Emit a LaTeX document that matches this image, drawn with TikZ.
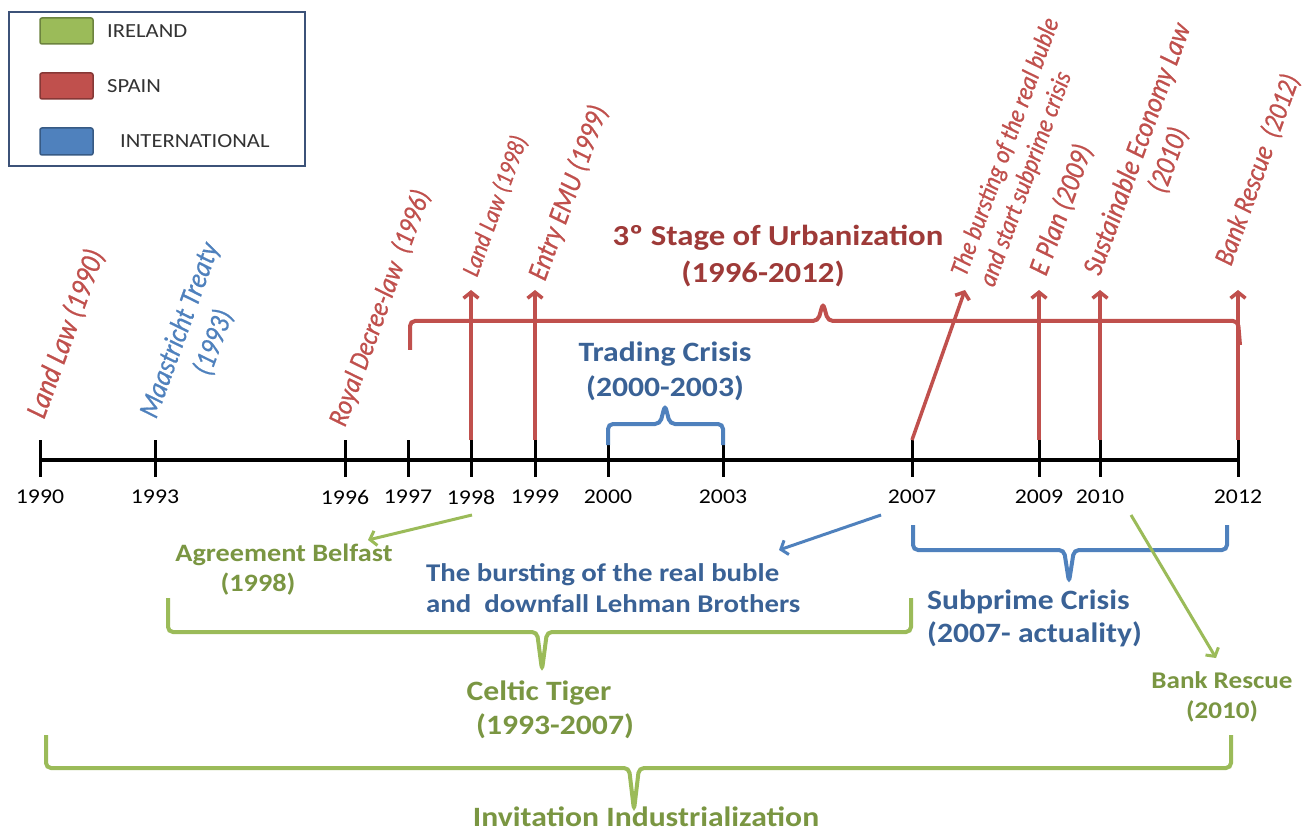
\documentclass[tikz,border=0pt]{standalone}
\usepackage{fontspec}
\setmainfont{Carlito}
\newfontfamily\widefont{Carlito}[FakeStretch=1.13]
\newfontfamily\tallfont{Carlito}[FakeStretch=0.88,FakeBold=0.6]
\usetikzlibrary{arrows.meta,positioning}
\definecolor{irelandclr}{RGB}{155,187,89}
\definecolor{irelandtxt}{RGB}{122,150,66}
\definecolor{spainclr}{RGB}{192,80,77}
\definecolor{spaintxt}{RGB}{158,58,56}
\definecolor{intlclr}{RGB}{79,129,189}
\definecolor{intltxt}{RGB}{58,98,150}
\definecolor{legendframe}{RGB}{60,82,120}

\tikzset{
  yearlbl/.style={font=\widefont\fontsize{21}{24}\selectfont, inner sep=0pt},
  eventlbl/.style n args={2}{font=\tallfont\itshape\fontsize{#1}{#2}\selectfont, inner sep=0pt, anchor=base west, rotate=70},
  periodlbl/.style n args={2}{font=\widefont\bfseries\fontsize{#1}{#2}\selectfont, inner sep=0pt, align=center},
  swatch/.style={line width=1.5pt, rounded corners=2pt},
  legendtxt/.style={font=\widefont\fontsize{20}{22}\selectfont, anchor=west, inner sep=0pt, black!80},
  spainarrow/.style={spainclr, line width=3.5pt, -{Straight Barb[length=6pt,width=15pt]}},
  thinarrow/.style={line width=3pt, -{Straight Barb[length=6pt,width=15pt]}},
  bracket/.style={line width=4pt, rounded corners=5pt},
}

\begin{document}
\begin{tikzpicture}[x=1pt,y=-1pt]
\useasboundingbox (0,0) rectangle (1315,834);
\fill[white] (0,0) rectangle (1315,834);

% Legend
\draw[legendframe, line width=2pt] (9,12) rectangle (305,166);
\filldraw[swatch, fill=irelandclr, draw=irelandclr!70!black] (40,18) rectangle (93,44);
\filldraw[swatch, fill=spainclr, draw=spainclr!70!black] (40,73) rectangle (93,99);
\filldraw[swatch, fill=intlclr, draw=intlclr!70!black] (40,128) rectangle (93,155);
\node[legendtxt] (legire) at (107,31) {IRELAND};
\node[legendtxt] (legspa) at (107,86) {SPAIN};
\node[legendtxt] (legint) at (120,141) {INTERNATIONAL};

% Time axis with ticks and years
\draw[line width=4.5pt] (40,460) -- (1238,460);
\foreach \x/\yr in {40/1990, 155/1993, 345/1996, 408/1997, 471/1998, 535/1999,
                    608/2000, 723/2003, 912/2007, 1039/2009, 1100/2010, 1238/2012}{
  \draw[line width=3pt] (\x,440) -- (\x,477);
  \coordinate (t\yr) at (\x,440);
  \node[yearlbl] (y\yr) at (\x,497) {\yr};
}

% Spain: 3º stage bracket and event arrows
\draw[spainclr, bracket] (410,350) -- (410,321) -- (818,321) -- (823,303) -- (828,321)
  -- (1238,321) -- (1240,345);
\node[periodlbl={29}{37}, spaintxt] (stage) at (778,256)
  {3º Stage of Urbanization\\(1996-2012)\hspace*{30pt}};
\foreach \yr/\x in {1998/471, 1999/535, 2009/1039, 2010/1100, 2012/1238}{
  \coordinate (a\yr) at (\x,290);
  \draw[spainarrow] (t\yr) -- (a\yr);
}
\coordinate (a2007) at (965,290);
\draw[spainarrow] (t2007) -- (a2007);

% Rotated event labels (base of the last line)
\node[eventlbl={30}{34}, spainclr] (land90) at (44,420) {Land Law (1990)};
\node[eventlbl={29}{36}, intlclr, align=center] (maast) at (190,432) {Maastricht Treaty\\(1993)};
\node[eventlbl={28}{32}, spainclr] (royal) at (345,428) {Royal Decree-law \ (1996)};
\node[eventlbl={25}{30}, spainclr] (land98) at (477,278) {Land Law (1998)};
\node[eventlbl={29}{32}, spainclr] (emu) at (545,282) {Entry EMU (1999)};
\node[eventlbl={26}{30}, spainclr, align=left] (bubble) at (994,288)
  {The bursting of the real buble\\and start subprime crisis};
\node[eventlbl={29}{32}, spainclr] (eplan) at (1046,277) {E Plan (2009)};
\node[eventlbl={29}{33}, spainclr, align=center] (sustain) at (1131,288)
  {Sustainable Economy Law\\(2010)};
\node[eventlbl={28}{32}, spainclr] (bank12) at (1231,267) {Bank Rescue \ (2012)};

% International
\draw[intlclr, bracket] (608,445) -- (608,424) -- (660,424) -- (665,405) -- (670,424)
  -- (723,424) -- (723,445);
\node[periodlbl={28}{35}, intltxt] (trading) at (665,371) {Trading Crisis\\(2000-2003)};
\draw[intlclr, bracket] (913,525) -- (913,550) -- (1064,550) -- (1069,582) -- (1074,550)
  -- (1227,550) -- (1227,525);
\node[periodlbl={28}{33}, intltxt, align=left, anchor=west] (subprime) at (927,618)
  {Subprime Crisis\\(2007- actuality)};
\node[periodlbl={25.5}{31}, intltxt, align=left, anchor=west] (burst) at (426,588)
  {The bursting of the real buble\\and \ downfall Lehman Brothers};
\coordinate (burstfrom) at (881,515);
\coordinate (bursttip) at (779,550);
\draw[intlclr, thinarrow] (burstfrom) -- (bursttip);

% Ireland
\coordinate (belfrom) at (472,515);
\coordinate (beltip) at (368,540);
\draw[irelandclr, thinarrow] (belfrom) -- (beltip);
\node[periodlbl={25}{30}, irelandtxt] (belfast) at (284,570)
  {Agreement Belfast\\(1998)\hspace*{52pt}};
\draw[irelandclr, bracket] (168,598) -- (168,632) -- (537,632) -- (542,670) -- (547,632)
  -- (911,632) -- (911,598);
\node[periodlbl={28}{34}, irelandtxt] (celtic) at (539,710)
  {Celtic Tiger\\\hspace*{32pt}(1993-2007)};
\coordinate (rescfrom) at (1131,515);
\coordinate (resctip) at (1216,658);
\draw[irelandclr, thinarrow] (rescfrom) -- (resctip);
\node[periodlbl={24}{30}, irelandtxt] (bankie) at (1222,697) {Bank Rescue\\(2010)};
\draw[irelandclr, bracket] (46,735) -- (46,768) -- (629,768) -- (634,810) -- (639,768)
  -- (1231,768) -- (1231,735);
\node[periodlbl={28}{34}, irelandtxt] (invite) at (646,817) {Invitation Industrialization};

\end{tikzpicture}
\end{document}
